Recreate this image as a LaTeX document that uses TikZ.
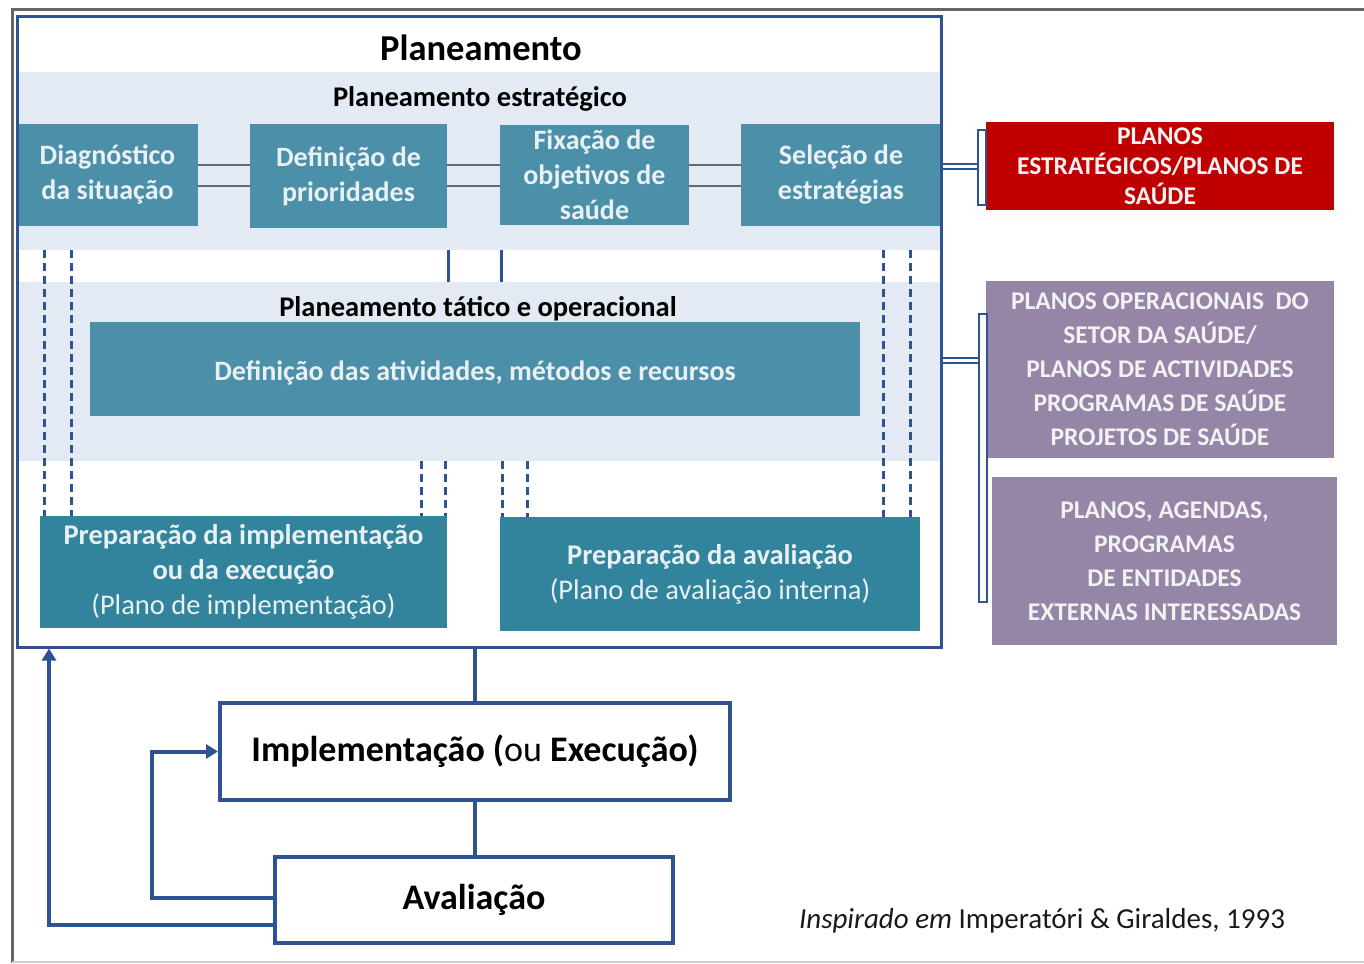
\documentclass[tikz,border=0pt]{standalone}
\usepackage{fontspec}
\setmainfont{Carlito}
\usetikzlibrary{positioning,arrows.meta}

\definecolor{stratteal}{HTML}{4B8FA9}
\definecolor{prepteal}{HTML}{31849B}
\definecolor{bandblue}{HTML}{E4EAF4}
\definecolor{darkblue}{HTML}{2F5290}
\definecolor{planred}{HTML}{C00000}
\definecolor{planpurple}{HTML}{9585A6}
\definecolor{boxtext}{HTML}{E9F0F4}
\definecolor{linkgray}{HTML}{5F6B73}
\definecolor{framegray}{HTML}{666666}

\begin{document}
\begin{tikzpicture}[x=1pt,y=-1pt,
        band/.style = {fill=bandblue, minimum width=924pt, inner sep=0pt},
        stratbox/.style = {fill=stratteal, text=boxtext, align=center, inner sep=0pt, font=\bfseries\fontsize{28}{35}\selectfont,
            execute at begin node=\rule{0pt}{28pt}},
        prepbox/.style = {fill=prepteal, text=boxtext, align=center, inner sep=0pt, font=\fontsize{28.5}{35}\selectfont,
            execute at begin node=\rule{0pt}{28pt}},
        stepnode/.style = {draw=darkblue, line width=4pt, fill=white, inner sep=0pt, font=\bfseries\fontsize{36}{40}\selectfont},
        plansbox/.style = {text=white!95!black, align=center, inner sep=0pt, font=\bfseries\fontsize{25.5}{34}\selectfont},
        bracket/.style = {draw=darkblue, fill=white, line width=2pt, minimum width=8pt, inner sep=0pt},
        graylink/.style = {draw=linkgray, line width=2pt, double=bandblue, double distance=19pt},
        bluelink/.style = {draw=darkblue, line width=2pt, double=white, double distance=3pt},
        dashlink/.style = {darkblue, line width=3pt, dash pattern=on 8pt off 5pt},
        solidlink/.style = {darkblue, line width=3pt},
        feedback/.style = {darkblue, line width=4pt, -{Triangle[length=12pt,width=14pt]}},]
        \useasboundingbox (0,0) rectangle (1364,963);
        \draw[framegray, line width=3pt] (1364,10) -- (12,10) -- (12,963);
        \draw[black!20, line width=1.5pt] (12,962) -- (1364,962);

        % bands of the planning frame
        \node[band, minimum height=178pt] (strat) at (479,161) {};
        \node[band, minimum height=179pt] (tact) at (479,371.5) {};
        \node[font=\bfseries\fontsize{36.5}{40}\selectfont] (title) at (481,48) {Planeamento};
        \node[font=\bfseries\fontsize{28.5}{32}\selectfont] (strattitle) at (480,99) {Planeamento estratégico};
        \node[font=\bfseries\fontsize{28.5}{32}\selectfont] (tacttitle) at (478,309) {Planeamento tático e operacional};

        % strategic steps
        \node[stratbox, minimum width=181pt, minimum height=102pt] (diag) at (107.5,175) {Diagnóstico\\da situação};
        \node[stratbox, minimum width=197pt, minimum height=104pt] (prio) at (348.5,176) {Definição de\\prioridades};
        \node[stratbox, minimum width=189pt, minimum height=100pt] (obj) at (594.5,175) {Fixação de\\objetivos de\\saúde};
        \node[stratbox, minimum width=200pt, minimum height=102pt] (estr) at (841,175) {Seleção de\\estratégias};
        \draw[graylink] (diag.east) -- (diag.east -| prio.west);
        \draw[graylink] (prio.west -| prio.east) ++(0,-1) -- (obj.west);
        \draw[graylink] (obj.east) -- (estr.west);

        % tactical level
        \node[stratbox, minimum width=770pt, minimum height=94pt] (activ) at (475,369) {Definição das atividades, métodos e recursos};
        \node[prepbox, minimum width=407pt, minimum height=112pt] (pimpl) at (243.5,572)
            {\textbf{Preparação da implementação}\\\textbf{ou da execução}\\(Plano de implementação)};
        \node[prepbox, minimum width=420pt, minimum height=114pt] (paval) at (710,574)
            {\textbf{Preparação da avaliação}\\(Plano de avaliação interna)};

        \draw[solidlink] (strat.south -| 448,0) -- (tact.north -| 448,0);
        \draw[solidlink] (strat.south -| 501,0) -- (tact.north -| 501,0);
        \draw[dashlink] (strat.south -| 44,0) -- (pimpl.north -| 44,0);
        \draw[dashlink] (strat.south -| 71,0) -- (pimpl.north -| 71,0);
        \draw[dashlink] (strat.south -| 883,0) -- (paval.north -| 883,0);
        \draw[dashlink] (strat.south -| 910,0) -- (paval.north -| 910,0);
        \draw[dashlink] (tact.south -| 421,0) -- (pimpl.north -| 421,0);
        \draw[dashlink] (tact.south -| 445,0) -- (pimpl.north -| 445,0);
        \draw[dashlink] (tact.south -| 502,0) -- (paval.north -| 502,0);
        \draw[dashlink] (tact.south -| 527,0) -- (paval.north -| 527,0);

        \node[draw=darkblue, line width=3pt, minimum width=924pt, minimum height=630pt, inner sep=0pt] (plan) at (479,332) {};

        % resulting plans
        \node[plansbox, fill=planred, minimum width=348pt, minimum height=88pt, font=\bfseries\fontsize{25.5}{30}\selectfont] (pstrat) at (1160,166)
            {PLANOS\\ESTRATÉGICOS/PLANOS DE\\SAÚDE};
        \node[plansbox, fill=planpurple, minimum width=348pt, minimum height=177pt] (poper) at (1160,369.5)
            {PLANOS OPERACIONAIS\ \ DO\\SETOR DA SAÚDE/\\PLANOS DE ACTIVIDADES\\PROGRAMAS DE SAÚDE\\PROJETOS DE SAÚDE};
        \node[plansbox, fill=planpurple, minimum width=345pt, minimum height=168pt] (pext) at (1164.5,561)
            {PLANOS, AGENDAS,\\PROGRAMAS\\DE ENTIDADES\\EXTERNAS INTERESSADAS};
        \node[bracket, minimum height=75pt] (brk1) at (982,167) {};
        \node[bracket, minimum height=288pt] (brk2) at (983,458) {};
        \draw[bluelink] (plan.east |- 0,166) -- (brk1.west |- 0,166);
        \draw[bluelink] (plan.east |- 0,360) -- (brk2.west |- 0,360);

        % implementation and evaluation
        \node[stepnode, minimum width=510pt, minimum height=97pt] (impl) at (475,751.5)
            {Implementação (\mdseries ou \bfseries Execução)};
        \node[stepnode, minimum width=398pt, minimum height=86pt] (aval) at (474,900) {Avaliação};
        \draw[solidlink, line width=4pt] (impl.north) -- (impl.north |- plan.south);
        \draw[solidlink, line width=4pt] (impl.south) -- (impl.south |- aval.north);
        \draw[feedback] (aval.west |- 0,898) -- (152,898) |- (impl.west);
        \draw[feedback] (aval.west |- 0,925) -| (plan.south -| 49,0);

        \node[font=\fontsize{29}{32}\selectfont, text=black!90] (source) at (1042,921)
            {\textit{Inspirado em} Imperatóri \& Giraldes, 1993};
    \end{tikzpicture}
\end{document}
